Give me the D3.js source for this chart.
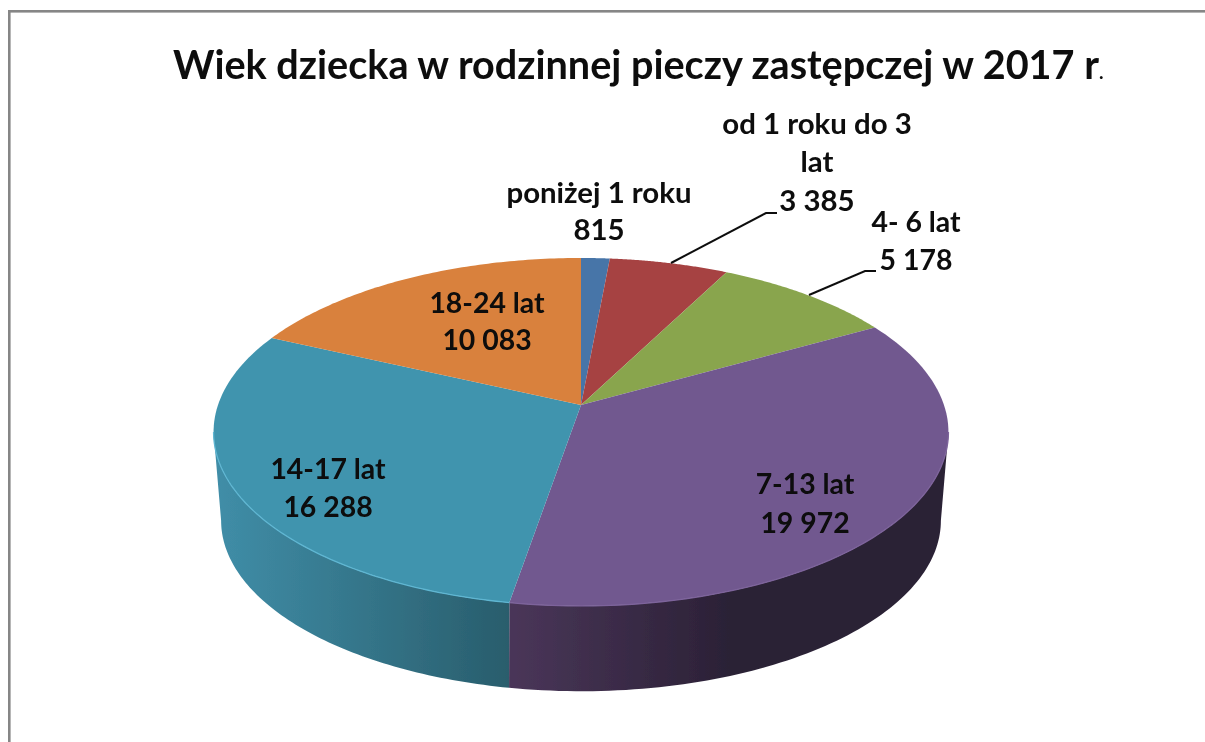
<!DOCTYPE html>
<html><head><meta charset="utf-8">
<script src="https://cdnjs.cloudflare.com/ajax/libs/d3/7.8.5/d3.min.js"></script>
<style>html,body{margin:0;background:#fff}svg{display:block}text{font-family:Lato,sans-serif;font-weight:700;fill:#0a0a0a}</style>
</head><body><svg id="c" width="1205" height="742"></svg>
<script>
const categories=["poniżej 1 roku","od 1 roku do 3 lat","4- 6 lat","7-13 lat","14-17 lat","18-24 lat"];
const values=[815,3385,5178,19972,16288,10083];
const valueLabels=["815","3 385","5 178","19 972","16 288","10 083"];
const colors=["#4674a8","#a64343","#89a54e","#71588f","#4094ae","#d9813c"];
const wallFrom=["#4674a8","#a64343","#89a54e","#4a3659","#408ea8","#d9813c"];
const wallTo=["#4674a8","#a64343","#89a54e","#2b2136","#295d6c","#d9813c"];

const svg=d3.select("#c");
const defs=svg.append("defs");
defs.append("filter").attr("id","soft").attr("x","-5%").attr("y","-5%").attr("width","110%").attr("height","110%")
  .append("feGaussianBlur").attr("stdDeviation",0.45);
function disc(a,b,p,x0,y0){return t=>{const x=Math.sin(t),y=-Math.cos(t),d=1-p*y;return [x0+a*x/d,y0+b*y/d];};}
const P=0.155,Pb=0.18;
const top_=disc(363,169.8,P,581,405);
const bot_=disc(354,165,Pb,581,490);
const pie=d3.pie().sort(null).value(d=>d)(values);
const line=d3.line();
const samples=(s,e)=>d3.range(0,81).map(i=>s+(e-s)*i/80);

svg.append("rect").attr("x",9.3).attr("y",11.3).attr("width",1300).attr("height",900).attr("fill","#fff").attr("stroke","#868686").attr("stroke-width",2.6);

const art=svg.append("g").attr("filter","url(#soft)");
const tR=Math.PI/2+Math.asin(P), tL=3*Math.PI/2-Math.asin(P);
const tRb=Math.PI/2+Math.asin(Pb), tLb=3*Math.PI/2-Math.asin(Pb);
pie.forEach((s,i)=>{
  const a=Math.max(s.startAngle,tR), b=Math.min(s.endAngle,tL);
  if(b<=a) return;
  const ta=samples(a,b);
  const tb=samples(Math.max(s.startAngle,tRb),Math.min(s.endAngle,tLb));
  const pts=ta.map(top_).concat(tb.reverse().map(bot_));
  const xs=pts.map(p=>p[0]);
  const id="w"+i;
  const x0=d3.min(xs),x1=d3.max(xs);
  const g=defs.append("linearGradient").attr("id",id).attr("gradientUnits","userSpaceOnUse")
   .attr("x1",x0).attr("x2",x1).attr("y1",0).attr("y2",0);
  if(i===3){
    g.append("stop").attr("offset",0).attr("stop-color",wallFrom[i]);
    g.append("stop").attr("offset",0.5).attr("stop-color",wallTo[i]);
    g.append("stop").attr("offset",1).attr("stop-color",wallTo[i]);
  } else {
    g.append("stop").attr("offset",0).attr("stop-color",wallFrom[i]);
    g.append("stop").attr("offset",1).attr("stop-color",wallTo[i]);
  }
  art.append("path").attr("d",line(pts)+"Z").attr("fill",`url(#${id})`);
});
pie.forEach((s,i)=>{
  const pts=[[581,405]].concat(samples(s.startAngle,s.endAngle).map(top_));
  art.append("path").attr("d",line(pts)+"Z").attr("fill",colors[i]);
});
[[tR,pie[3].endAngle,"#7d649b"],[pie[3].endAngle,tL,"#5fb6d2"]].forEach(r=>{
  art.append("path").attr("d",line(samples(r[0],r[1]).map(top_))).attr("fill","none").attr("stroke",r[2]).attr("stroke-width",1.3);
});
const leaders=[[[671,263],[766,213],[777,213]],[[809,295],[865,271],[876,271]]];
leaders.forEach(l=>art.append("path").attr("d",line(l)).attr("fill","none").attr("stroke","#111").attr("stroke-width",2));
const title=art.append("text").attr("x",173).attr("y",79).attr("font-size",39.6);
title.append("tspan").text("Wiek dziecka w rodzinnej pieczy zastępczej w 2017 r");
title.append("tspan").attr("font-size",19).text(".");
const lab=[
 {i:0,x:599,y:[203,240],s:29.4,l:[categories[0]]},
 {i:1,x:817,y:[134,172,211],s:29.4,l:["od 1 roku do 3","lat"]},
 {i:2,x:916,y:[232,270],s:28.4,l:[categories[2]]},
 {i:3,x:805,y:[494,533],s:28.4,l:[categories[3]]},
 {i:4,x:328,y:[479,517],s:28.4,l:[categories[4]]},
 {i:5,x:487,y:[313,350],s:28.4,l:[categories[5]]}];
lab.forEach(d=>{
 d.l.concat(valueLabels[d.i]).forEach((t,j)=>art.append("text").attr("x",d.x).attr("y",d.y[j]).attr("text-anchor","middle").attr("font-size",d.s).text(t));
});
</script></body></html>
